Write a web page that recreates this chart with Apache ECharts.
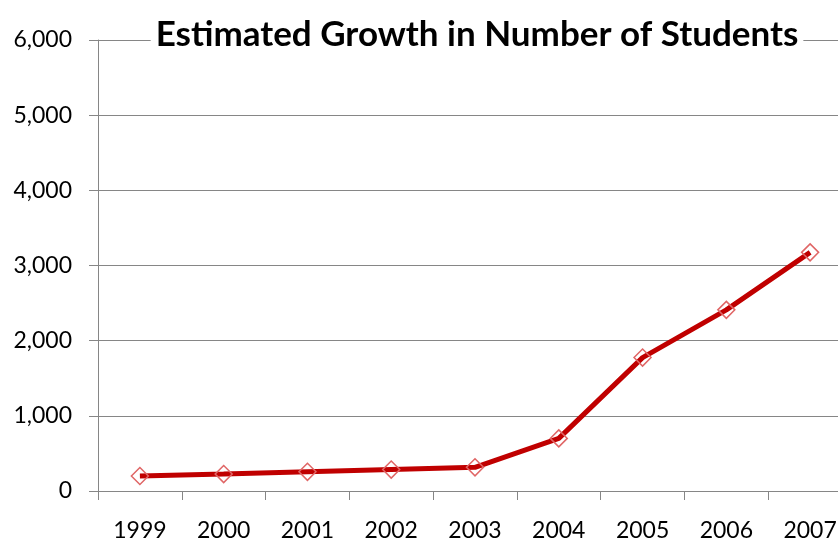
<!DOCTYPE html>
<html>
<head>
<meta charset="utf-8">
<script src="https://cdn.jsdelivr.net/npm/echarts@6/dist/echarts.min.js"></script>
<style>
  html, body { margin: 0; padding: 0; background: #fff; overflow: hidden; }
  /* plot runs past the right edge in the original, so the canvas is a bit wider than the window */
  #chart { width: 852px; height: 550px; }
</style>
</head>
<body>
<div id="chart"></div>
<script>
const years = ['1999', '2000', '2001', '2002', '2003', '2004', '2005', '2006', '2007']
const students = [200, 225, 255, 285, 315, 700, 1775, 2410, 3175]
const yTicks = [0, 1000, 2000, 3000, 4000, 5000, 6000]

const chart = echarts.init(document.getElementById('chart'))

const option = {
  backgroundColor: '#fff',
  animation: false,
  title: {
    text: 'Estimated Growth in Number of Students',
    left: 472,
    textAlign: 'center',
    top: 17,
    padding: [0, 5],
    backgroundColor: '#fff',
    textStyle: {
      fontFamily: 'Lato',
      fontWeight: 'bold',
      fontSize: 35,
      color: '#000'
    }
  },
  grid: {
    left: 98,
    right: 0,
    top: 40,
    bottom: 59,
    containLabel: false
  },
  xAxis: {
    type: 'category',
    data: years,
    boundaryGap: true,
    axisLine: { lineStyle: { color: '#868686', width: 1 } },
    axisTick: { show: true, length: 9, alignWithLabel: false, lineStyle: { color: '#868686' } },
    axisLabel: {
      fontFamily: 'Lato',
      fontSize: 23,
      color: '#000',
      margin: 28
    }
  },
  yAxis: {
    type: 'value',
    min: yTicks[0],
    max: yTicks[yTicks.length - 1],
    interval: 1000,
    axisLine: { show: true, lineStyle: { color: '#868686', width: 1 } },
    axisTick: { show: true, length: 9, lineStyle: { color: '#868686' } },
    splitLine: { lineStyle: { color: '#868686', width: 1 } },
    axisLabel: {
      fontFamily: 'Lato',
      fontSize: 23,
      color: '#000',
      margin: 26,
      formatter: v => v.toLocaleString('en-US')
    }
  },
  series: [
    {
      type: 'line',
      data: students,
      lineStyle: { color: '#c00000', width: 5 },
      symbol: 'diamond',
      symbolSize: 17,
      itemStyle: {
        color: 'rgba(255,255,255,0)',
        borderColor: '#e06666',
        borderWidth: 1.5
      },
      z: 3
    }
  ]
}

chart.setOption(option)
</script>
</body>
</html>
